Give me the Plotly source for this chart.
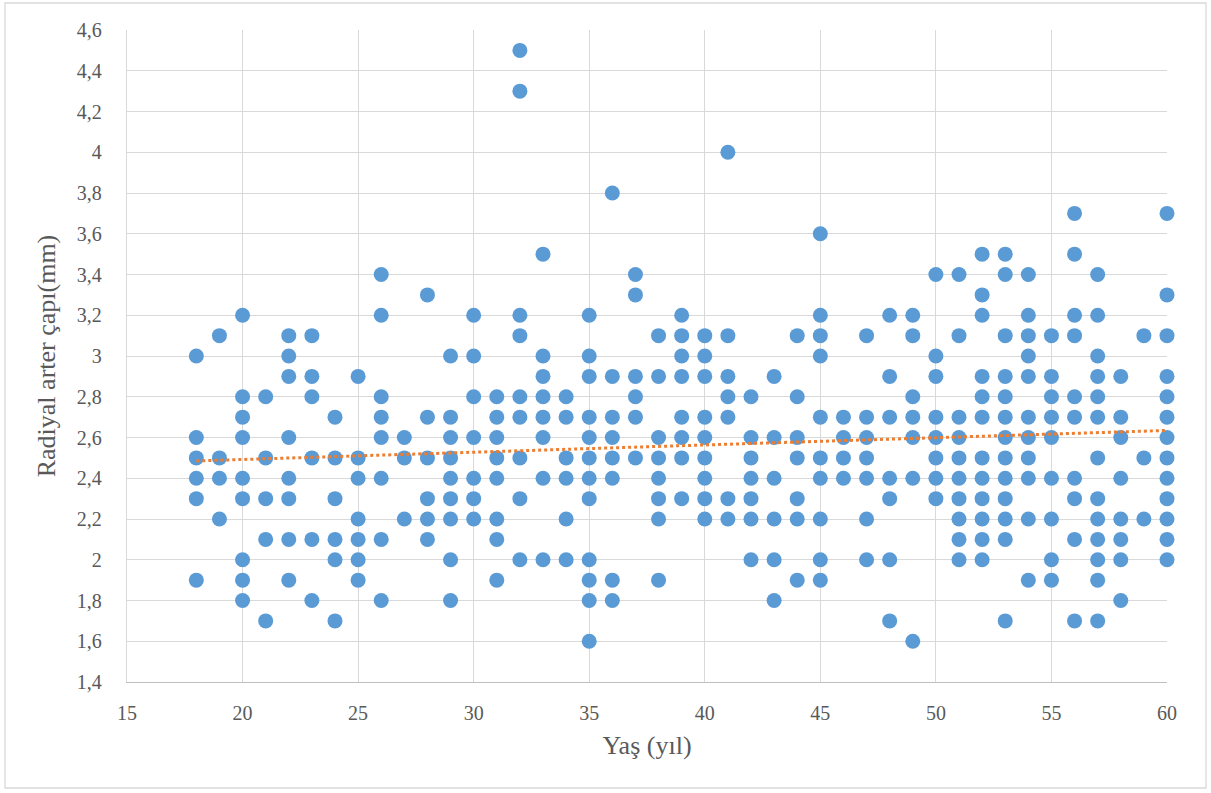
import numpy as np
import plotly.graph_objects as go

# ---- data: radial artery diameter (mm) by age (years) ----
ages = list(range(18, 61))
diameters = {
    18: [3.0, 2.6, 2.5, 2.4, 2.3, 1.9],
    19: [3.1, 2.5, 2.4, 2.2],
    20: [3.2, 2.8, 2.7, 2.6, 2.4, 2.3, 2.0, 1.9, 1.8],
    21: [2.8, 2.5, 2.3, 2.1, 1.7],
    22: [3.1, 3.0, 2.9, 2.6, 2.4, 2.3, 2.1, 1.9],
    23: [3.1, 2.9, 2.8, 2.5, 2.1, 1.8],
    24: [2.7, 2.5, 2.3, 2.1, 2.0, 1.7],
    25: [2.9, 2.5, 2.4, 2.2, 2.1, 2.0, 1.9],
    26: [3.4, 3.2, 2.8, 2.7, 2.6, 2.4, 2.1, 1.8],
    27: [2.6, 2.5, 2.2],
    28: [3.3, 2.7, 2.5, 2.3, 2.2, 2.1],
    29: [3.0, 2.7, 2.6, 2.5, 2.4, 2.3, 2.2, 2.0, 1.8],
    30: [3.2, 3.0, 2.8, 2.6, 2.4, 2.3, 2.2],
    31: [2.8, 2.7, 2.6, 2.5, 2.4, 2.2, 2.1, 1.9],
    32: [4.5, 4.3, 3.2, 3.1, 2.8, 2.7, 2.5, 2.3, 2.0],
    33: [3.5, 3.0, 2.9, 2.8, 2.7, 2.6, 2.4, 2.0],
    34: [2.8, 2.7, 2.5, 2.4, 2.2, 2.0],
    35: [3.2, 3.0, 2.9, 2.7, 2.6, 2.5, 2.4, 2.3, 2.0, 1.9, 1.8, 1.6],
    36: [3.8, 2.9, 2.7, 2.6, 2.5, 2.4, 1.9, 1.8],
    37: [3.4, 3.3, 2.9, 2.8, 2.7, 2.5],
    38: [3.1, 2.9, 2.6, 2.5, 2.4, 2.3, 2.2, 1.9],
    39: [3.2, 3.1, 3.0, 2.9, 2.7, 2.6, 2.5, 2.3],
    40: [3.1, 3.0, 2.9, 2.7, 2.6, 2.5, 2.4, 2.3, 2.2],
    41: [4.0, 3.1, 2.9, 2.8, 2.7, 2.3, 2.2],
    42: [2.8, 2.6, 2.5, 2.4, 2.3, 2.2, 2.0],
    43: [2.9, 2.6, 2.4, 2.2, 2.0, 1.8],
    44: [3.1, 2.8, 2.6, 2.5, 2.3, 2.2, 1.9],
    45: [3.6, 3.2, 3.1, 3.0, 2.7, 2.5, 2.4, 2.2, 2.0, 1.9],
    46: [2.7, 2.6, 2.5, 2.4],
    47: [3.1, 2.7, 2.6, 2.5, 2.4, 2.2, 2.0],
    48: [3.2, 2.9, 2.7, 2.4, 2.3, 2.0, 1.7],
    49: [3.2, 3.1, 2.8, 2.7, 2.6, 2.4, 1.6],
    50: [3.4, 3.0, 2.9, 2.7, 2.6, 2.5, 2.4, 2.3],
    51: [3.4, 3.1, 2.7, 2.6, 2.5, 2.4, 2.3, 2.2, 2.1, 2.0],
    52: [3.5, 3.3, 3.2, 2.9, 2.8, 2.7, 2.5, 2.4, 2.3, 2.2, 2.1, 2.0],
    53: [3.5, 3.4, 3.1, 2.9, 2.8, 2.7, 2.6, 2.5, 2.4, 2.3, 2.2, 2.1, 1.7],
    54: [3.4, 3.2, 3.1, 3.0, 2.9, 2.7, 2.6, 2.5, 2.4, 2.2, 1.9],
    55: [3.1, 2.9, 2.8, 2.7, 2.6, 2.4, 2.2, 2.0, 1.9],
    56: [3.7, 3.5, 3.2, 3.1, 2.8, 2.7, 2.4, 2.3, 2.1, 1.7],
    57: [3.4, 3.2, 3.0, 2.9, 2.8, 2.7, 2.5, 2.3, 2.2, 2.1, 2.0, 1.9, 1.7],
    58: [2.9, 2.7, 2.6, 2.4, 2.2, 2.1, 2.0, 1.8],
    59: [3.1, 2.5, 2.2],
    60: [3.7, 3.3, 3.1, 2.9, 2.8, 2.7, 2.6, 2.5, 2.4, 2.3, 2.2, 2.1, 2.0],
}

x_tick_vals = [15, 20, 25, 30, 35, 40, 45, 50, 55, 60]
y_tick_vals = [1.4, 1.6, 1.8, 2.0, 2.2, 2.4, 2.6, 2.8, 3.0, 3.2, 3.4, 3.6, 3.8, 4.0, 4.2, 4.4, 4.6]
y_tick_text = ["1,4", "1,6", "1,8", "2", "2,2", "2,4", "2,6", "2,8", "3", "3,2",
               "3,4", "3,6", "3,8", "4", "4,2", "4,4", "4,6"]
x_title = "Yaş (yıl)"
y_title = "Radiyal arter çapı(mm)"

# ---- build flat series ----
xs, ys = [], []
for a in ages:
    for d in diameters.get(a, []):
        xs.append(a)
        ys.append(d)
xs = np.array(xs, dtype=float)
ys = np.array(ys, dtype=float)

# linear trendline (least squares) over the data range
slope, intercept = np.polyfit(xs, ys, 1)
tx = np.array([xs.min(), xs.max()])
ty = slope * tx + intercept

FONT = "Liberation Serif"
GREY = "#595959"

fig = go.Figure()
fig.add_trace(go.Scatter(
    x=xs, y=ys, mode="markers",
    marker=dict(size=15, color="#5B9BD5", line=dict(width=0)),
    showlegend=False, hoverinfo="x+y", cliponaxis=False,
))
fig.add_trace(go.Scatter(
    x=tx, y=ty, mode="lines",
    line=dict(color="#ED7D31", width=3, dash="dot"),
    showlegend=False, hoverinfo="skip", cliponaxis=False,
))

fig.update_layout(
    width=1211, height=793,
    margin=dict(l=127, r=44, t=30, b=111),
    paper_bgcolor="white", plot_bgcolor="white",
    font=dict(family=FONT, color=GREY, size=20),
    xaxis=dict(
        range=[15, 60], tickvals=x_tick_vals, ticktext=[str(v) for v in x_tick_vals],
        showgrid=True, gridcolor="#D9D9D9", gridwidth=1.3,
        zeroline=False, showline=True, linecolor="#BFBFBF", linewidth=1.3,
        ticks="", ticklabelstandoff=13,
        tickfont=dict(family=FONT, size=20, color=GREY),
        title=dict(text=x_title, font=dict(family=FONT, size=26, color=GREY), standoff=12),
        automargin=False,
    ),
    yaxis=dict(
        range=[1.4, 4.6], tickvals=y_tick_vals, ticktext=y_tick_text,
        showgrid=True, gridcolor="#D9D9D9", gridwidth=1.3,
        zeroline=False, showline=True, linecolor="#D9D9D9", linewidth=1.3,
        ticks="", ticklabelstandoff=20,
        tickfont=dict(family=FONT, size=20, color=GREY),
        title=dict(text=y_title, font=dict(family=FONT, size=26, color=GREY), standoff=13),
        automargin=False,
    ),
    shapes=[dict(
        type="rect", xref="paper", yref="paper",
        x0=(5 - 127) / 1040, x1=(1206 - 127) / 1040,
        y0=-(788 - 682) / 652, y1=1 + (30 - 3) / 652,
        line=dict(color="#D9D9D9", width=1.3), fillcolor="rgba(0,0,0,0)", layer="below",
    )],
)

fig.write_html("out.html")
